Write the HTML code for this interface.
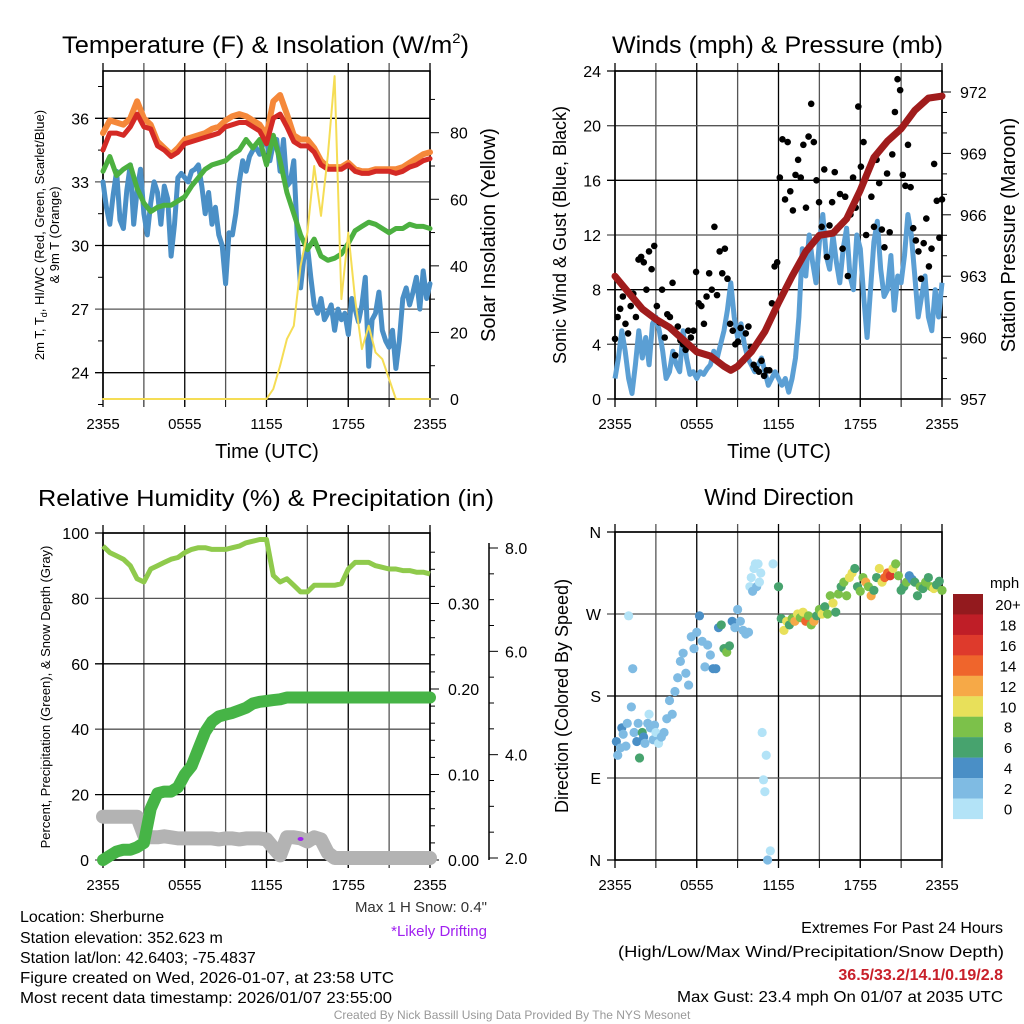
<!DOCTYPE html>
<html><head><meta charset="utf-8"><style>
html,body{margin:0;padding:0;background:#fff}
svg{display:block;font-family:"Liberation Sans",sans-serif}
</style></head><body>
<svg id="fig" width="1024" height="1024" viewBox="0 0 1024 1024" xmlns="http://www.w3.org/2000/svg">
<g id="static" font-family="Liberation Sans, sans-serif">
<text x="62" y="53" font-size="24" textLength="407" lengthAdjust="spacingAndGlyphs">Temperature (F) &amp; Insolation (W/m<tspan font-size="14" dy="-10">2</tspan><tspan dy="10">)</tspan></text>
<text x="612" y="53" font-size="24" textLength="331" lengthAdjust="spacingAndGlyphs">Winds (mph) &amp; Pressure (mb)</text>
<text x="38" y="506" font-size="23" textLength="456" lengthAdjust="spacingAndGlyphs">Relative Humidity (%) &amp; Precipitation (in)</text>
<text x="779" y="505" font-size="23" text-anchor="middle">Wind Direction</text>
<text x="267" y="458" font-size="20" text-anchor="middle">Time (UTC)</text>
<text x="779" y="458" font-size="20" text-anchor="middle">Time (UTC)</text>
<text transform="translate(44,235) rotate(-90)" font-size="13" text-anchor="middle">2m T, T<tspan font-size="9" dy="3">d</tspan><tspan dy="-3">, HI/WC (Red, Green, Scarlet/Blue)</tspan></text>
<text transform="translate(59,235) rotate(-90)" font-size="13" text-anchor="middle">&amp; 9m T (Orange)</text>
<text transform="translate(495,235) rotate(-90)" font-size="20" text-anchor="middle">Solar Insolation (Yellow)</text>
<text transform="translate(566,235) rotate(-90)" font-size="18" text-anchor="middle">Sonic Wind &amp; Gust (Blue, Black)</text>
<text transform="translate(1015,235) rotate(-90)" font-size="20" text-anchor="middle">Station Pressure (Maroon)</text>
<text transform="translate(50,697) rotate(-90)" font-size="13" text-anchor="middle">Percent, Precipitation (Green), &amp; Snow Depth (Gray)</text>
<text transform="translate(568,696) rotate(-90)" font-size="18" text-anchor="middle">Direction (Colored By Speed)</text>
<text x="487" y="912" font-size="15" text-anchor="end" fill="#333">Max 1 H Snow: 0.4"</text>
<text x="487" y="936" font-size="15" text-anchor="end" fill="#a020f0">*Likely Drifting</text>
<g font-size="16">
<text x="20" y="922">Location: Sherburne</text>
<text x="20" y="943">Station elevation: 352.623 m</text>
<text x="20" y="963">Station lat/lon: 42.6403; -75.4837</text>
<text x="20" y="983" textLength="374" lengthAdjust="spacingAndGlyphs">Figure created on Wed, 2026-01-07, at 23:58 UTC</text>
<text x="20" y="1003" textLength="372" lengthAdjust="spacingAndGlyphs">Most recent data timestamp: 2026/01/07 23:55:00</text>
</g>
<g font-size="16" text-anchor="end">
<text x="1003" y="933">Extremes For Past 24 Hours</text>
<text x="1004" y="957" textLength="386" lengthAdjust="spacingAndGlyphs">(High/Low/Max Wind/Precipitation/Snow Depth)</text>
<text x="1003" y="980" fill="#c8202a" font-weight="bold">36.5/33.2/14.1/0.19/2.8</text>
<text x="1003" y="1002" textLength="326" lengthAdjust="spacingAndGlyphs">Max Gust: 23.4 mph On 01/07 at 2035 UTC</text>
</g>
<text x="512" y="1019" font-size="12" fill="#999" text-anchor="middle">Created By Nick Bassill Using Data Provided By The NYS Mesonet</text>
</g>
</svg>
<script>
// ---------- data ----------
const timeTicks = ["2355","0555","1155","1755","2355"];
const tempRed = [34.5,35.3,35.3,35.2,35.6,36.2,35.6,35.5,34.7,34.5,34.2,34.4,34.8,34.9,35.0,35.1,35.2,35.3,35.6,35.7,35.8,35.8,35.6,35.4,34.8,36.0,36.2,35.6,34.9,34.7,34.7,34.4,33.8,33.6,33.6,33.6,33.8,33.5,33.4,33.4,33.5,33.5,33.5,33.4,33.5,33.7,33.8,34.0,34.1];
const temp9m = [35.3,35.9,35.8,35.7,36.0,36.8,36.0,35.7,34.9,34.6,34.3,34.6,35.0,35.1,35.2,35.3,35.5,35.6,35.9,36.1,36.2,36.1,35.9,35.7,35.2,36.8,37.1,36.2,35.2,35.0,35.0,34.6,34.0,33.7,33.7,33.7,33.9,33.6,33.5,33.5,33.6,33.6,33.6,33.6,33.7,33.9,34.1,34.3,34.4];
const heatIndex = [33.5,34.2,33.3,33.6,33.8,32.7,32.0,31.6,31.8,31.9,31.9,32.1,32.3,32.8,33.2,33.6,33.8,33.9,34.0,34.3,34.5,35.0,34.6,35.0,33.8,35.2,34.0,32.5,31.5,30.5,29.8,30.3,29.5,29.3,29.4,29.6,30.1,30.7,30.9,31.1,31.0,30.8,30.6,30.8,30.8,31.0,30.9,30.9,30.8];
const dewpoint = [33.0,31.8,31.0,32.4,33.5,31.2,30.8,32.6,33.8,31.0,32.6,33.6,31.5,30.5,32.0,33.0,32.5,31.0,32.8,32.2,29.5,31.0,33.2,33.4,33.2,33.0,33.5,33.6,33.8,32.8,31.5,32.5,31.0,31.8,30.5,30.0,28.2,30.6,30.5,31.5,33.0,34.0,33.5,34.2,34.5,34.6,34.3,34.8,35.0,34.0,34.8,35.0,33.5,35.0,32.8,33.0,34.0,30.5,28.0,29.5,30.0,28.5,27.2,26.8,27.5,26.5,26.8,27.2,26.0,27.0,26.5,26.8,25.8,27.5,27.0,26.4,27.2,28.5,24.3,26.5,26.8,27.8,26.0,25.5,25.2,26.0,24.2,25.5,27.5,28.0,27.2,27.8,28.5,27.0,28.8,27.5,28.2];
const solar = [0,0,0,0,0,0,0,0,0,0,0,0,0,0,0,0,0,0,0,0,0,0,0,0,0,3,10,18,22,40,50,70,55,73,97,30,50,30,15,22,14,12,6,0,0,0,0,0,0];
const sonicWind = [1.5,3.0,5.0,3.5,1.5,0.4,2.5,5.0,3.0,4.5,2.5,5.5,6.0,5.0,3.5,1.5,2.0,3.5,2.5,2.0,5.0,3.0,1.8,2.0,1.5,2.0,1.8,2.2,2.5,3.5,3.0,4.0,5.0,6.5,8.5,6.0,4.5,5.5,4.0,3.0,2.5,2.0,2.5,3.0,2.0,1.0,1.5,2.0,1.5,1.0,1.5,0.5,1.5,3.0,6.0,11.0,9.0,12.0,10.0,8.5,11.5,13.5,10.5,9.5,12.0,10.0,8.5,11.0,12.5,9.0,8.0,12.0,11.0,7.5,4.5,8.0,11.5,13.0,9.5,7.5,8.0,10.5,6.5,9.0,8.5,10.5,13.5,12.0,9.0,6.0,7.5,9.0,6.0,5.0,8.0,6.0,8.5];
const gusts = [4.4,6.0,6.6,7.5,5.5,4.8,6.8,7.7,6.0,10.2,10.4,10.0,8.0,10.8,9.5,11.2,6.8,5.6,8.0,4.5,6.2,6.0,8.5,3.2,5.3,4.3,4.0,3.6,5.0,4.5,5.0,9.3,7.0,6.8,5.5,7.5,9.2,8.0,12.6,7.6,10.8,9.2,11.0,8.8,5.5,5.0,4.0,4.2,5.2,2.8,4.8,5.3,3.8,2.5,2.2,2.0,2.8,1.7,2.1,2.1,7.0,9.7,10.0,16.2,19.0,14.6,18.8,15.2,13.8,16.4,17.5,16.2,18.6,14.0,19.2,21.6,18.8,16.0,14.4,12.6,16.8,10.4,12.7,14.4,16.6,12.5,15.0,11.0,14.8,9.0,13.5,16.2,14.0,21.4,17.0,18.8,12.0,16.8,14.8,12.6,17.5,15.8,12.4,11.1,16.5,12.2,17.9,21.0,23.4,22.6,16.4,15.6,18.6,15.5,12.5,11.6,10.8,8.8,11.4,13.2,9.7,11.0,17.2,14.5,11.8,14.6];
const pressHours = [0,1,2,3,4,5,6,7,8,8.5,9,10,11,12,13,14,15,16,17,18,19,20,21,22,23,24];
const pressure = [963.0,962.2,961.4,960.9,960.5,959.9,959.3,959.1,958.6,958.4,958.6,959.3,960.3,961.7,963.0,964.2,965.0,965.1,965.8,967.2,968.8,969.6,970.2,971.1,971.7,971.8];
const relHum = [96,94,93,92,90,86,85,89,90,91,92,92.5,94,95,95.5,95.5,95,95,95,95.5,96,97,97.5,98,98,87,85,86,84,82,82,84,84,84,84,84.5,89,91,91,91,90,89.5,89,89,88.5,88.5,88,88,87.5];
const precip = [0,0.005,0.01,0.012,0.012,0.015,0.02,0.06,0.078,0.08,0.08,0.085,0.1,0.11,0.13,0.15,0.162,0.168,0.17,0.172,0.175,0.178,0.183,0.185,0.186,0.187,0.188,0.19,0.19,0.19,0.19,0.19,0.19,0.19,0.19,0.19,0.19,0.19,0.19,0.19,0.19,0.19,0.19,0.19,0.19,0.19,0.19,0.19,0.19];
const snowDepth = [2.8,2.8,2.8,2.8,2.8,2.8,2.45,2.4,2.4,2.42,2.4,2.38,2.38,2.38,2.38,2.38,2.38,2.36,2.38,2.38,2.36,2.38,2.38,2.38,2.36,2.2,2.05,2.4,2.4,2.38,2.32,2.4,2.36,2.1,2.0,2.0,2.0,2.0,2.0,2.0,2.0,2.0,2.0,2.0,2.0,2.0,2.0,2.0,2.0];
const dirTimes = [0.1,0.2,0.4,0.5,0.6,0.8,0.9,1.0,1.2,1.3,1.4,1.6,1.7,1.8,2.0,2.1,2.2,2.4,2.5,2.6,2.8,2.9,3.0,3.2,
3.4,3.6,3.8,4.0,4.2,4.4,4.6,4.8,5.0,5.2,5.4,5.6,5.8,6.0,6.2,6.4,6.6,6.8,7.0,7.2,7.4,7.6,7.8,8.0,8.2,8.4,8.6,8.8,9.0,9.2,9.4,9.6,
9.8,9.9,10.0,10.1,10.2,10.3,10.4,10.5,10.6,10.7,10.8,10.9,11.0,11.1,11.2,11.4,11.6,
12.0,12.2,12.4,12.6,12.8,13.0,13.2,13.4,13.6,13.8,14.0,14.2,14.4,14.6,14.8,15.0,15.2,15.4,15.6,15.8,16.0,16.2,16.4,16.6,16.8,17.0,17.2,17.4,17.6,17.8,18.0,18.2,18.4,18.6,18.8,19.0,19.2,19.4,19.6,19.8,20.0,20.2,20.4,20.6,20.8,21.0,21.2,21.4,21.6,21.8,22.0,22.2,22.4,22.6,22.8,23.0,23.2,23.4,23.6,23.8,24.0];
const dirDeg = [130,115,123,145,138,125,150,268,168,210,140,130,150,112,140,135,128,150,160,145,132,148,140,128,135,140,155,175,160,185,200,218,227,205,192,245,232,250,268,240,212,236,225,210,210,255,258,232,228,235,262,255,275,262,252,248,250,300,310,295,320,325,300,325,305,315,140,88,75,115,0,10,325,300,265,252,262,258,265,262,270,266,272,262,268,258,262,268,275,270,278,270,290,282,272,292,300,305,290,310,315,320,300,295,310,305,300,290,296,310,320,305,310,315,312,320,325,312,296,300,305,312,308,305,290,300,298,305,310,300,298,302,306,296,300,295,310,305,300,292,300];
const dirSpeed = [4,3,2,4,2,3,3,1,2,3,2,5,3,6,7,4,3,2,0,3,2,2,1,1,2,3,2,3,2,2,2,2,3,3,2,3,2,3,4,2,3,3,2,4,5,4,7,6,8,7,4,3,3,3,2,2,2,1,1,2,1,0,2,1,0,1,0,1,1,0,2,0,1,7,6,10,10,7,9,12,11,9,10,14,9,8,12,7,8,10,6,9,8,10,7,8,6,9,8,10,11,7,6,8,9,13,8,12,6,7,10,10,14,15,16,11,8,9,6,7,8,5,4,7,6,8,6,9,7,8,10,6,7,8,5,6,9,8,7,8,10];
const speedLabels = ["20+","18","16","14","12","10","8","6","4","2","0"];
const speedColors = ["#b3e3f7","#7fbbe3","#4a8fc6","#47a36e","#7cc14a","#e8e05a","#f6a947","#ef652c","#de3a2c","#bf1e27","#931a1e"];

// ---------- helpers ----------
const NS = "http://www.w3.org/2000/svg";
const svg = document.getElementById("fig");
function mk(tag, attrs, parent){ const e=document.createElementNS(NS,tag); for(const k in attrs) e.setAttribute(k,attrs[k]); (parent||svg).appendChild(e); return e; }
function lin(d0,d1,r0,r1){ return v => r0+(v-d0)/(d1-d0)*(r1-r0); }
function halfHour(i){ return i*0.5; }
function quarter(i){ return i*0.25; }
function pathFrom(xs, ys){ return xs.map((x,i)=>(i?"L":"M")+x.toFixed(1)+","+ys[i].toFixed(1)).join(""); }

const P = {tl:{x0:103,x1:430,y0:71,y1:399}, tr:{x0:615,x1:942,y0:71,y1:399}, bl:{x0:103,x1:430,y0:533,y1:860}, br:{x0:615,x1:942,y0:532,y1:860}};

function frame(p, name, yTicksPos, yLabels, grid){
  const g = mk("g",{});
  
  
  const tx = lin(0,24,p.x0,p.x1);
  for(let h=0;h<=24;h+=3){
    const x=tx(h);
    mk("line",{x1:x,x2:x,y1:p.y0-8,y2:p.y1+(h%6===0?8:0),stroke:h%6===0?"#000":"#555","stroke-width":1.3},g);
    mk("line",{x1:x,x2:x,y1:p.y1,y2:p.y1+8,stroke:"#000","stroke-width":1},g);
  }
  timeTicks.forEach((l,i)=>{ const t=mk("text",{x:tx(i*6),y:p.y1+30,"font-size":15,"text-anchor":"middle"},g); t.textContent=l;
    
     });
  yTicksPos.forEach((y,i)=>{
    if(grid) mk("line",{x1:p.x0-8,x2:p.x1,y1:y,y2:y,stroke:i%2?"#555":"#000","stroke-width":1.3},g);
    const t=mk("text",{x:p.x0-14,y:y+6,"font-size":16,"text-anchor":"end"},g); t.textContent=yLabels[i];
    
    
  });
  mk("rect",{x:p.x0,y:p.y0,width:p.x1-p.x0,height:p.y1-p.y0,fill:"none",stroke:"#000","stroke-width":1.6},g);
  return {g,tx};
}

// ---------- TL temperature ----------
(function(){
  const p=P.tl; const ty=lin(24,36,372.7,118.3); const sy=lin(0,80,399,132.7);
  const yt=[36,33,30,27,24];
  const {tx}=frame(p,"temp",yt.map(ty),yt.map(String),true);
  for(let v=22.5;v<=38;v+=1.5){ if(v%3) mk("line",{x1:p.x0-5,x2:p.x0,y1:ty(v),y2:ty(v),stroke:"#000"}); }
  for(let v=0;v<=90;v+=10){ const y=sy(v); mk("line",{x1:p.x1,x2:p.x1+(v%20?5:9),y1:y,y2:y,stroke:"#000"});
    if(v%20===0){ const t=mk("text",{x:p.x1+20,y:y+6,"font-size":16}); t.textContent=v;
      
       } }
  function line(arr,step,color,w,name,scale){ const e=mk("path",{d:pathFrom(arr.map((v,i)=>tx(step(i))),arr.map(scale)),fill:"none",stroke:color,"stroke-width":w,"stroke-linejoin":"round","stroke-linecap":"round"});
    
     }
  line(dewpoint,quarter,"#4a8fc6",5,"dewpoint-line",ty);
  line(heatIndex,halfHour,"#4cb040",5,"heat-index-line",ty);
  line(temp9m,halfHour,"#f5883a",6,"temp-9m-line",ty);
  line(tempRed,halfHour,"#d42a25",5,"temp-2m-line",ty);
  line(solar,halfHour,"#f5dd55",2,"solar-insolation-line",sy);
})();

// ---------- TR winds ----------
(function(){
  const p=P.tr; const wy=lin(0,24,399,71); const py=lin(957,972,399,92);
  const yt=[24,20,16,12,8,4,0];
  const {tx}=frame(p,"winds",yt.map(wy),yt.map(String),true);
  for(let v=957;v<=972.5;v+=1){ const y=py(v); mk("line",{x1:p.x1,x2:p.x1+((v-957)%3?5:9),y1:y,y2:y,stroke:"#000"});
    if((v-957)%3===0){ const t=mk("text",{x:p.x1+18,y:y+6,"font-size":16}); t.textContent=v;
      
       } }
  const w=mk("path",{d:pathFrom(sonicWind.map((v,i)=>tx(quarter(i))),sonicWind.map(wy)),fill:"none",stroke:"#5b9fd4","stroke-width":5,"stroke-linejoin":"round"});
  
  
  const n=gusts.length;
  gusts.forEach((v,i)=>{ const c=mk("circle",{cx:tx(i*24/(n-1)),cy:wy(v),r:3.3,fill:"#000"});
    
     });
  const pr=mk("path",{d:pathFrom(pressHours.map(tx),pressure.map(py)),fill:"none",stroke:"#a01c1c","stroke-width":7,"stroke-linejoin":"round","stroke-linecap":"round"});
  
  
})();

// ---------- BL humidity ----------
(function(){
  const p=P.bl; const ry=lin(0,100,860,533); const prY=lin(0,0.1,860,774.5); const snY=lin(2,8,858,548);
  const yt=[100,80,60,40,20,0];
  const {tx}=frame(p,"humidity",yt.map(ry),yt.map(String),true);
  for(let v=0;v<=0.375;v+=0.02){ const y=prY(v); const major=Math.abs(v*10-Math.round(v*10))<1e-6;
    mk("line",{x1:p.x1,x2:p.x1+(major?9:5),y1:y,y2:y,stroke:"#000"});
    if(major){ const t=mk("text",{x:p.x1+18,y:y+6,"font-size":16}); t.textContent=v.toFixed(2);
      
       } }
  mk("line",{x1:489,x2:489,y1:543,y2:860,stroke:"#000","stroke-width":1.5});
  for(let v=2;v<=8.2;v+=0.5){ const y=snY(v); const major=v%2===0;
    mk("line",{x1:489,x2:489+(major?9:5),y1:y,y2:y,stroke:"#000"});
    if(major){ const t=mk("text",{x:505,y:y+6,"font-size":16}); t.textContent=v.toFixed(1);
      
       } }
  const sn=mk("path",{d:pathFrom(snowDepth.map((v,i)=>tx(halfHour(i))),snowDepth.map(snY)),fill:"none",stroke:"#b3b3b3","stroke-width":14,"stroke-linejoin":"round","stroke-linecap":"round"});
  
  
  const pc=mk("path",{d:pathFrom(precip.map((v,i)=>tx(halfHour(i))),precip.map(prY)),fill:"none",stroke:"#46b446","stroke-width":12,"stroke-linejoin":"round","stroke-linecap":"round"});
  
  
  const rh=mk("path",{d:pathFrom(relHum.map((v,i)=>tx(halfHour(i))),relHum.map(ry)),fill:"none",stroke:"#8fca4c","stroke-width":5,"stroke-linejoin":"round"});
  
  
  const d=mk("ellipse",{cx:tx(14.5),cy:839,rx:3,ry:2,fill:"#a020f0"});
  
  
})();

// ---------- BR wind direction ----------
(function(){
  const p=P.br; const dy=lin(0,360,860,532);
  const {tx}=frame(p,"direction",[360,270,180,90,0].map(dy),["N","W","S","E","N"],true);
  function colorFor(s){ return speedColors[Math.min(10,Math.floor(s/2))]; }
  const n=Math.min(dirTimes.length,dirDeg.length,dirSpeed.length);
  for(let i=0;i<n;i++){ const c=mk("circle",{cx:tx(dirTimes[i]),cy:dy(dirDeg[i]),r:4.6,fill:colorFor(dirSpeed[i])});
    
     }
  const cb=mk("g",{});
  
  
  const t0=mk("text",{x:990,y:588,"font-size":15},cb); t0.textContent="mph";
  speedLabels.forEach((l,i)=>{ const y=594+i*20.45;
    mk("rect",{x:953,y:y,width:30,height:20.6,fill:speedColors[10-i]},cb);
    const t=mk("text",{x:1008,y:y+16,"font-size":15,"text-anchor":"middle"},cb); t.textContent=l;
    
     });
})();
</script>
</body></html>
